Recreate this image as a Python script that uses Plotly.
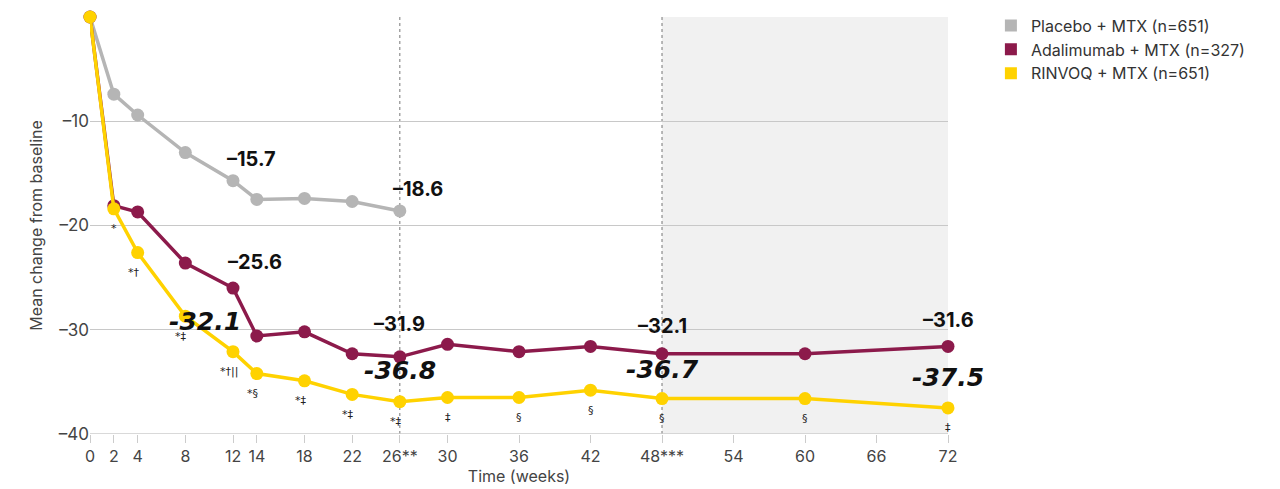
import plotly.graph_objects as go

weeks_pl = [0, 2, 4, 8, 12, 14, 18, 22, 26]
placebo = [0, -7.4, -9.4, -13.0, -15.7, -17.5, -17.4, -17.7, -18.6]
weeks_long = [0, 2, 4, 8, 12, 14, 18, 22, 26, 30, 36, 42, 48, 60, 72]
adalimumab = [0, -18.1, -18.7, -23.6, -26.0, -30.6, -30.2, -32.3, -32.6, -31.4, -32.1, -31.6, -32.3, -32.3, -31.6]
rinvoq = [0, -18.4, -22.6, -28.7, -32.1, -34.2, -34.9, -36.2, -36.9, -36.5, -36.5, -35.8, -36.6, -36.6, -37.5]
sig_marks = ["", "*", "*†", "*‡", "*†||", "*§", "*‡", "*‡", "*‡", "‡", "§", "§", "§", "§", "‡"]
x_ticks = [0, 2, 4, 8, 12, 14, 18, 22, 26, 30, 36, 42, 48, 54, 60, 66, 72]
x_ticktext = ["0", "2", "4", "8", "12", "14", "18", "22", "26**", "30", "36", "42", "48***", "54", "60", "66", "72"]
y_ticks = [0, -10, -20, -30, -40]
y_ticktext = ["0", "–10", "–20", "–30", "–40"]
names = ["Placebo + MTX (n=651)", "Adalimumab + MTX (n=327)", "RINVOQ + MTX (n=651)"]
colors = ["#b5b5b5", "#8c1a4b", "#ffd200"]

pl_labels = [(12, -15.7, "–15.7"), (26, -18.6, "–18.6")]
ad_labels = [(12, -25.6, "–25.6"), (26, -31.9, "–31.9"), (48, -32.1, "–32.1"), (72, -31.6, "–31.6")]
rv_labels = [(12, -32.1, "-32.1"), (26, -36.8, "-36.8"), (48, -36.7, "-36.7"), (72, -37.5, "-37.5")]

fig = go.Figure()
fig.add_vrect(x0=48, x1=72, fillcolor="#f1f1f1", line_width=0, layer="below")
for xv in [26, 48]:
    fig.add_vline(x=xv, line=dict(color="#777", width=1, dash="dot"), layer="below")

for xs, ys, n, c in [(weeks_pl, placebo, names[0], colors[0]),
                     (weeks_long, adalimumab, names[1], colors[1]),
                     (weeks_long, rinvoq, names[2], colors[2])]:
    fig.add_trace(go.Scatter(x=xs, y=ys, mode="lines+markers", line=dict(color=c, width=3.5),
                             marker=dict(size=13, color=c), showlegend=False, cliponaxis=False))
for n, c in zip(names, colors):
    fig.add_trace(go.Scatter(x=[None], y=[None], mode="markers", name=n,
                             marker=dict(symbol="square", size=18, color=c)))

for xv, yv, s in zip(weeks_long, rinvoq, sig_marks):
    if s:
        fig.add_annotation(x=xv, y=yv, text=s, showarrow=False, yshift=-20, xshift=-4 if len(s) > 1 else 0,
                           font=dict(size=11, color="#222", family="DejaVu Sans"))
for xv, yv, t in pl_labels:
    fig.add_annotation(x=xv, y=yv, text=f"<b>{t}</b>", showarrow=False, xshift=18, yshift=22,
                       font=dict(size=20, color="#111", family="Inter"))
shifts_ad = {12: (22, 22), 26: (0, 26), 48: (0, 26), 72: (0, 26)}
for xv, yv, t in ad_labels:
    dx, dy = shifts_ad[xv]
    fig.add_annotation(x=xv, y=yv, text=f"<b>{t}</b>", showarrow=False, xshift=dx, yshift=dy,
                       font=dict(size=20, color="#111", family="Inter"))
for xv, yv, t in rv_labels:
    fig.add_annotation(x=xv, y=yv, text=f"<b><i>{t}</i></b>", showarrow=False, xshift=-28 if xv == 12 else 0,
                       yshift=30,
                       font=dict(size=25, color="#111", family="DejaVu Sans"))

fig.update_layout(
    width=1280, height=489, plot_bgcolor="white", paper_bgcolor="white",
    margin=dict(l=82, r=340, t=9, b=63, autoexpand=False),
    font=dict(family="Inter", color="#333"),
    legend=dict(x=1.05, y=1.02, xanchor="left", yanchor="top", font=dict(size=16, color="#333"),
                itemsizing="constant", tracegroupgap=8),
    xaxis=dict(range=[0, 72], tickvals=x_ticks, ticktext=x_ticktext, showgrid=False, zeroline=False,
               ticks="outside", ticklen=8, tickcolor="#ccc", tickfont=dict(size=16, color="#444"),
               title=dict(text="Time (weeks)", font=dict(size=16, color="#444"), standoff=4),
               showline=False, automargin=False),
    yaxis=dict(range=[-40, 0], tickvals=y_ticks, ticktext=y_ticktext, showgrid=True, gridcolor="#c8c8c8",
               gridwidth=1, zeroline=False, tickfont=dict(size=17, color="#444"), automargin=False,
               title=dict(text="Mean change from baseline", font=dict(size=16, color="#444"), standoff=12)),
)
fig.add_hline(y=-40, line=dict(color="#ccc", width=1.5))
fig.write_html("out.html")
